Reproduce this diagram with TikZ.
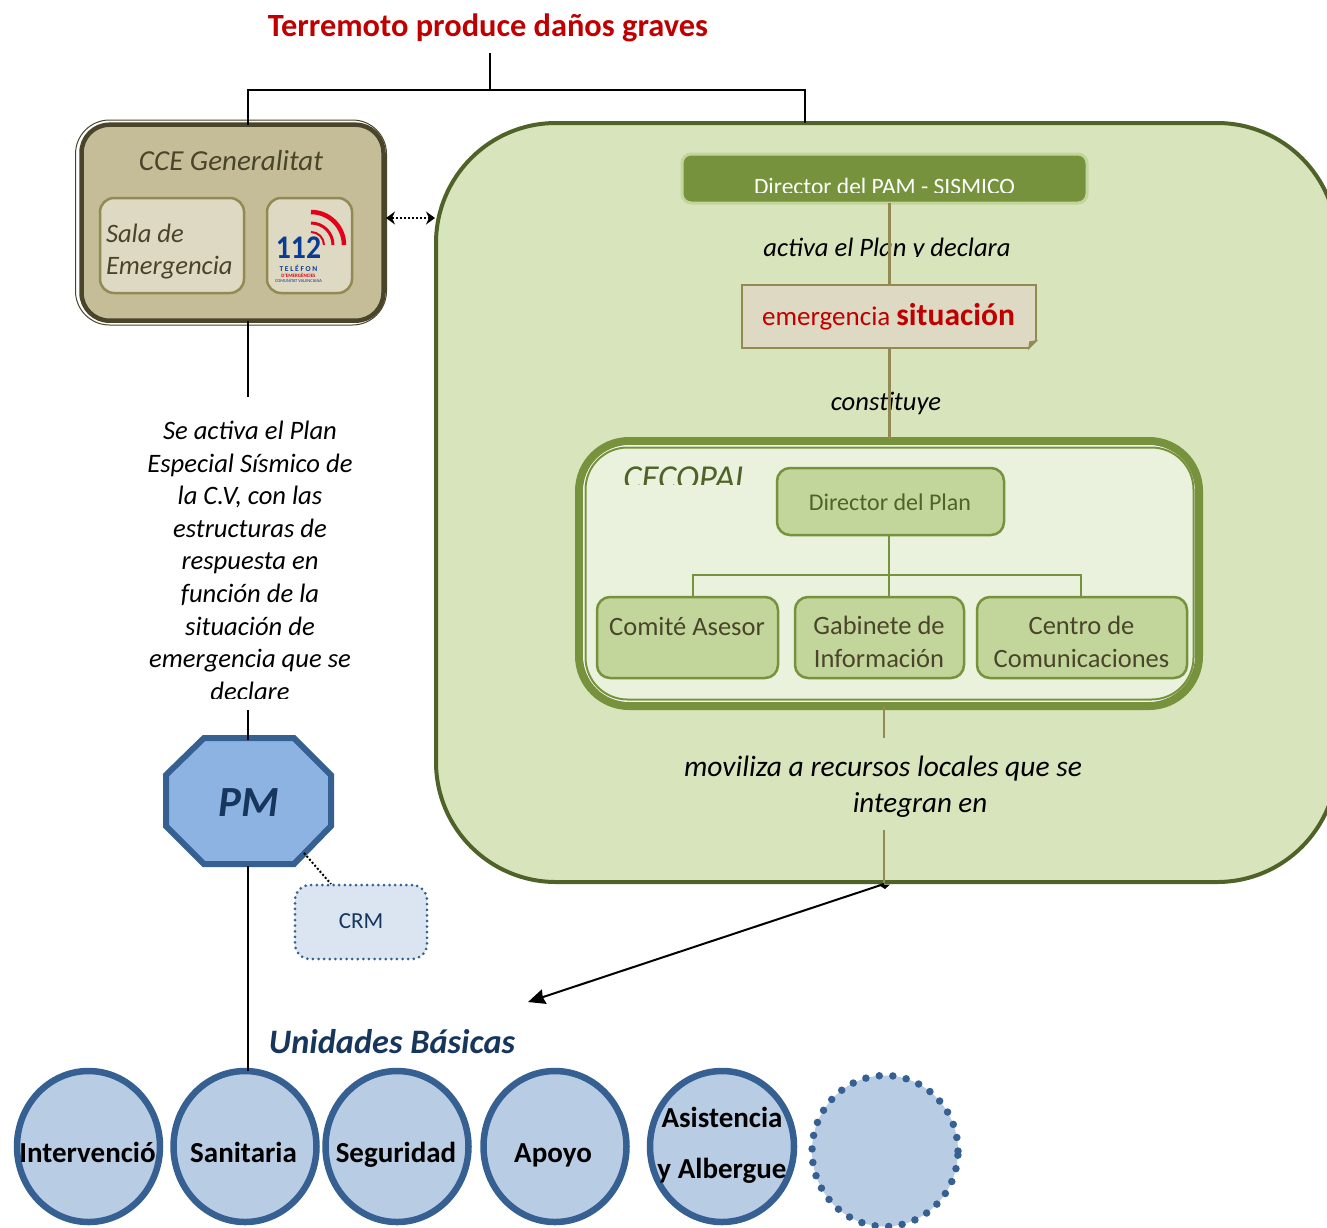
\documentclass[tikz,border=0pt]{standalone}
\usepackage{xcolor}
\usepackage{fontspec}
\setmainfont{Carlito}
\definecolor{cceFill}{HTML}{C4BD97}
\definecolor{cceEdge}{HTML}{4A452A}
\definecolor{cceLight}{HTML}{DDD9C3}
\definecolor{cceTan}{HTML}{938953}
\definecolor{pamFill}{HTML}{D8E4BC}
\definecolor{pamEdge}{HTML}{4F6228}
\definecolor{dirGreen}{HTML}{76923C}
\definecolor{dirLight}{HTML}{C2D69B}
\definecolor{cecoFill}{HTML}{EAF1DD}
\definecolor{pmFill}{HTML}{8DB3E2}
\definecolor{pmEdge}{HTML}{366092}
\definecolor{navyText}{HTML}{17365D}
\definecolor{crmFill}{HTML}{DBE5F1}
\definecolor{unitFill}{HTML}{B8CCE4}
\definecolor{alarmRed}{HTML}{C00000}
\definecolor{logoBlue}{HTML}{0A3C96}
\definecolor{logoRed}{HTML}{E2001A}
\usepackage{tikz}
\usetikzlibrary{shapes.geometric, arrows.meta, positioning}
\tikzset{
  every node/.style={outer sep=0pt, inner sep=0pt},
  blackline/.style={black, line width=1.8pt},
  tanline/.style={cceTan, line width=3pt},
  orgline/.style={dirGreen, line width=2.5pt},
  ccebox/.style={rectangle, rounded corners=14pt, fill=cceLight, draw=cceTan, line width=2.5pt},
  orgbox/.style={rectangle, rounded corners=13pt, fill=dirLight, draw=dirGreen, line width=2.5pt},
  orgtext/.style={text=cceEdge, align=center, font=\fontsize{26.5}{33}\selectfont},
  saying/.style={text=black, font=\fontsize{26.6}{30}\selectfont\itshape},
  unidad/.style={ellipse, minimum width=#1, minimum height=151pt, fill=unitFill, draw=pmEdge, line width=6.5pt},
  unidadtext/.style={text=black, align=center, font=\fontsize{29}{51}\selectfont\bfseries}
}
\begin{document}
\begin{tikzpicture}[x=1pt, y=-1pt]
  \useasboundingbox (0,0) rectangle (1327,1227);
  % big green panel, runs off the right edge
  \begin{scope}
    \clip (0,0) rectangle (1327,1227);
    \node[rectangle, rounded corners=120pt, fill=pamFill, draw=pamEdge, line width=4pt, minimum width=901pt, minimum height=759pt] (pam) at (886.5,502.5) {};
  \end{scope}
  \node[text=alarmRed, font=\fontsize{32.4}{38}\selectfont\bfseries] (titulo) at (488,28) {Terremoto produce daños graves};
  % CCE block
  \node[rectangle, rounded corners=34pt, fill=white, draw=cceEdge, line width=1pt, minimum width=311pt, minimum height=205pt] (cceout) at (231,222.5) {};
  \node[rectangle, rounded corners=28pt, fill=cceFill, draw=cceEdge, line width=4.5pt, minimum width=302pt, minimum height=196pt] (cce) at (232.5,222.7) {};
  \node[text=cceEdge, font=\fontsize{29}{32}\selectfont\itshape] (ccelabel) at (231,161) {CCE Generalitat};
  \node[ccebox, minimum width=144pt, minimum height=95pt] (sala) at (172,245.5) {};
  \node[text=cceEdge, align=left, anchor=west, font=\fontsize{26.6}{32}\selectfont\itshape] (salatext) at (106,252) {Sala de\\Emergencia};
  \node[ccebox, minimum width=85pt, minimum height=95pt] (tel) at (309.5,245.5) {};
  % 112 logo
  \foreach \r/\w in {33/4.5, 22/3, 13/2}
    \draw[logoRed, line width=\w pt] (311,245-\r) arc[start angle=-90, end angle=0, radius=\r];
  \node[text=logoBlue, xscale=0.9, transform shape, font=\fontsize{33}{33}\selectfont\bfseries] (num) at (298.5,248) {112};
  \node[text=logoBlue, font=\fontsize{7.5}{8}\selectfont\bfseries] (telefon) at (298.5,268) {T E L É F O N};
  \node[text=logoRed, font=\fontsize{5}{6}\selectfont\bfseries] (emerg) at (298.5,275) {D'EMERGÈNCIES};
  \node[text=logoBlue, font=\fontsize{4.5}{5}\selectfont] (comun) at (298.5,281) {COMUNITAT VALENCIANA};
  % text under CCE, last line cut
  \begin{scope}
    \clip (100,410) rectangle (400,698);
    \node[text=black, align=center, anchor=north, font=\fontsize{26.6}{32.6}\selectfont\itshape] (plantext) at (250,421) {Se activa el Plan\\Especial Sísmico de\\la C.V, con las\\estructuras de\\respuesta en\\función de la\\situación de\\emergencia que se\\declare};
  \end{scope}
  \coordinate (plantop) at (248,397);
  \coordinate (planend) at (248,710);
  % green side
  \node[rectangle, rounded corners=9pt, fill=dirGreen, draw=dirLight, line width=3pt, minimum width=405pt, minimum height=49pt] (dirpam) at (884.5,178.5) {};
  \begin{scope}
    \clip (700,160) rectangle (1070,192.5);
    \node[text=white, font=\fontsize{23.5}{27}\selectfont] (dirpamtext) at (884.5,186.5) {Director del PAM - SISMICO};
  \end{scope}
  \begin{scope}
    \clip (700,230) rectangle (1070,256);
    \node[saying] (activa) at (887,249) {activa el Plan y declara};
  \end{scope}
  \node[rectangle, fill=cceLight, draw=cceTan, line width=2pt, minimum width=294pt, minimum height=63pt] (emergencia) at (889,316.5) {};
  \fill[pamFill] (1037.5,339) -- (1037.5,349.5) -- (1027,349.5) -- cycle;
  \fill[cceTan, draw=cceTan, line width=1.5pt] (1036,341) -- (1029,348) -- (1030,342) -- cycle;
  \node[text=alarmRed, font=\fontsize{27}{30}\selectfont] (emergenciatext) at (888.5,317) {emergencia \fontsize{31.5}{30}\selectfont\bfseries situación};
  \node[saying] (constituye) at (886,403) {constituye};
  \draw[tanline] (emergencia.north |- dirpam.south) -- (emergencia.north);
  % CECOPAL
  \node[rectangle, rounded corners=50pt, fill=white, draw=dirGreen, line width=8pt, minimum width=620pt, minimum height=265pt] (cecopal) at (889,573.5) {};
  \draw[tanline] (emergencia.south) -- ([yshift=2pt]cecopal.north);
  \node[rectangle, rounded corners=42pt, fill=cecoFill, draw=dirGreen, line width=2pt, minimum width=608pt, minimum height=252pt] (cecoin) at (889.5,573.5) {};
  \begin{scope}
    \clip (610,455) rectangle (770,484);
    \node[text=pamEdge, anchor=base, font=\fontsize{35}{40}\selectfont\itshape] (cecotext) at (686.5,489) {CECOPAL};
  \end{scope}
  \node[orgbox, minimum width=227pt, minimum height=67pt] (dirplan) at (890.5,501.5) {};
  \node[text=pamEdge, font=\fontsize{24}{28}\selectfont] (dirplantext) at (890,502) {Director del Plan};
  \node[orgbox, minimum width=181pt, minimum height=81pt] (comite) at (687.5,637.5) {};
  \node[orgbox, minimum width=169pt, minimum height=81pt] (gabinete) at (879.5,637.5) {};
  \node[orgbox, minimum width=210pt, minimum height=81pt] (centro) at (1082,637.5) {};
  \node[orgtext] (comitetext) at (687,626) {Comité Asesor};
  \node[orgtext] (gabinetetext) at (879,641.5) {Gabinete de\\Información};
  \node[orgtext] (centrotext) at (1081.5,641.5) {Centro de\\Comunicaciones};
  \coordinate (busleft) at (693,575);
  \coordinate (busmid) at (889,575);
  \coordinate (busright) at (1081,575);
  \draw[orgline] (busmid |- dirplan.south) -- (busmid |- gabinete.north);
  \draw[orgline] (busleft |- comite.north) -- (busleft) -- (busright) -- (busright |- centro.north);
  \node[text=black, font=\fontsize{29.5}{34}\selectfont\itshape] (moviliza) at (883,769) {moviliza a recursos locales que se};
  \node[text=black, font=\fontsize{29}{34}\selectfont\itshape] (integran) at (920,805) {integran en};
  \coordinate (movtop) at (884,738);
  \coordinate (movlow) at (884,830);
  \coordinate (movend) at (884,884);
  \coordinate (unidadtip) at (528,1002);
  \draw[cceTan, line width=2pt] (movtop |- cecopal.south) -- (movtop);
  \draw[cceTan, line width=2pt] (movlow) -- (movend);
  \draw[black, line width=2pt, -{Stealth[length=17pt, width=15pt, inset=1.5pt]}] (movend) -- (unidadtip);
  \fill[black] (878,884.5) -- (890,884.5) -- (885,889) -- cycle;
  % PM and CRM
  \draw[fill=pmFill, draw=pmEdge, line width=6pt] (204,738) -- (294,738) -- (331,775) -- (331,826) -- (294,864) -- (204,864) -- (166,826) -- (166,775) -- cycle;
  \node[rectangle, minimum width=165pt, minimum height=126pt, text=navyText, font=\fontsize{43}{46}\selectfont\bfseries\itshape] (pm) at (248.5,803) {PM};
  \node[rectangle, rounded corners=15pt, fill=crmFill, draw=pmEdge, line width=3pt, dash pattern=on 0pt off 5.6pt, line cap=round, minimum width=132pt, minimum height=74pt] (crm) at (361,922) {};
  \node[text=navyText, font=\fontsize{23}{27}\selectfont] (crmtext) at (361,921) {CRM};
  \node[text=navyText, font=\fontsize{34.3}{38}\selectfont\bfseries\itshape] (basicas) at (392,1042) {Unidades Básicas};
  % basic units
  \foreach \name/\x/\txt/\tx in {intervencion/88.5/Intervenció/87.5, sanitaria/245/Sanitaria/243.5, seguridad/397/Seguridad/396, apoyo/555/Apoyo/553}{
    \node[unidad=143pt] (\name) at (\x,1146.5) {};
    \node[unidadtext, anchor=base] (\name text) at (\tx,1162.5) {\txt};
  }
  \node[unidad=144pt] (asistencia) at (722,1146.5) {};
  \node[unidadtext] (asistenciatext) at (722,1145.5) {Asistencia\\y Albergue};
  \node[ellipse, minimum width=146pt, minimum height=151pt, fill=unitFill, draw=pmEdge, line width=7.5pt, line cap=round, dash pattern=on 0pt off 13.6pt] (otra) at (885,1151) {};
  % black connectors
  \coordinate (treetop) at (490,53);
  \coordinate (treemid) at (490,90);
  \coordinate (treeleft) at (248,90);
  \coordinate (treeright) at (805,90);
  \draw[blackline] (treetop) -- (treemid);
  \draw[blackline] (cce.north -| treeleft) -- (treeleft) -- (treeright) -- (treeright |- pam.north);
  \draw[blackline] (cce.south -| plantop) -- (plantop);
  \draw[blackline] (planend) -- (planend |- pm.north);
  \draw[blackline] (pm.south -| planend) -- (planend |- sanitaria.north);
  \coordinate (dotleft) at (386,218);
  \coordinate (dotright) at (435,218);
  \draw[black, line width=2pt, dotted, {Stealth[length=9pt, width=13pt, inset=3pt]}-{Stealth[length=9pt, width=13pt, inset=3pt]}] (dotleft) -- (dotright);
  \draw[black, line width=2pt, dotted] (304,853) -- (331,884);
\end{tikzpicture}
\end{document}
